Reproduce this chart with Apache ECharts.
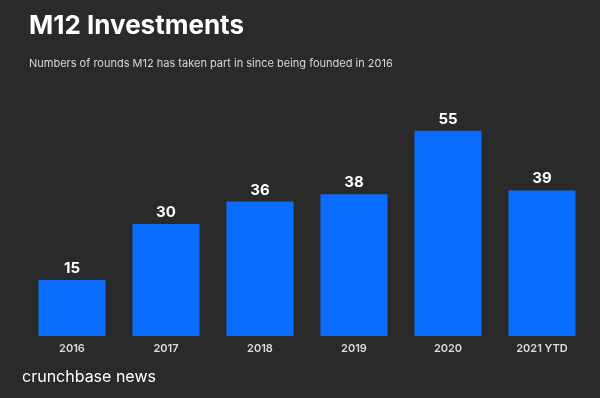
<!DOCTYPE html>
<html lang="en">
<head>
    <meta charset="UTF-8">
    <title>M12 Investments</title>
    <style>
        html, body { margin: 0; padding: 0; background: #2a2a2a; }
    </style>
</head>
<body>
<div id="chart" style="width: 600px;height: 398px;"></div>
<script src="https://cdn.jsdelivr.net/npm/echarts@6/dist/echarts.min.js"></script>
<script>
    var years = ['2016', '2017', '2018', '2019', '2020', '2021 YTD'];
    var rounds = [15, 30, 36, 38, 55, 39];

    var chart = echarts.init(document.getElementById('chart'));
    var option = {
        backgroundColor: '#2a2a2a',
        animation: false,
        title: [
            {
                text: 'M12 Investments',
                left: 24,
                top: 8,
                textStyle: {
                    color: '#ffffff',
                    fontFamily: 'Inter',
                    fontWeight: 'bold',
                    fontSize: 26
                }
            },
            {
                text: 'Numbers of rounds M12 has taken part in since being founded in 2016',
                left: 24,
                top: 53,
                textStyle: {
                    color: '#d8d8d8',
                    fontFamily: 'Inter',
                    fontWeight: 'normal',
                    fontSize: 11
                }
            },
            {
                text: 'crunchbase news',
                left: 17,
                top: 364,
                textStyle: {
                    color: '#ffffff',
                    fontFamily: 'Inter',
                    fontWeight: 'normal',
                    fontSize: 16
                }
            }
        ],
        grid: {
            left: 25,
            width: 564,
            top: 112,
            height: 224
        },
        xAxis: {
            type: 'category',
            data: years,
            axisLine: {show: false},
            axisTick: {show: false},
            axisLabel: {
                color: '#dddddd',
                fontFamily: 'Inter',
                fontWeight: 600,
                fontSize: 11,
                margin: 7
            }
        },
        yAxis: {
            type: 'value',
            min: 0,
            max: 60,
            show: false,
            splitLine: {show: false}
        },
        series: [
            {
                type: 'bar',
                data: rounds,
                barWidth: 67,
                itemStyle: {color: '#0a6dff'},
                label: {
                    show: true,
                    position: 'top',
                    distance: 4,
                    color: '#ffffff',
                    fontFamily: 'Inter',
                    fontWeight: 'bold',
                    fontSize: 15
                }
            }
        ]
    };
    chart.setOption(option);
</script>
</body>
</html>
